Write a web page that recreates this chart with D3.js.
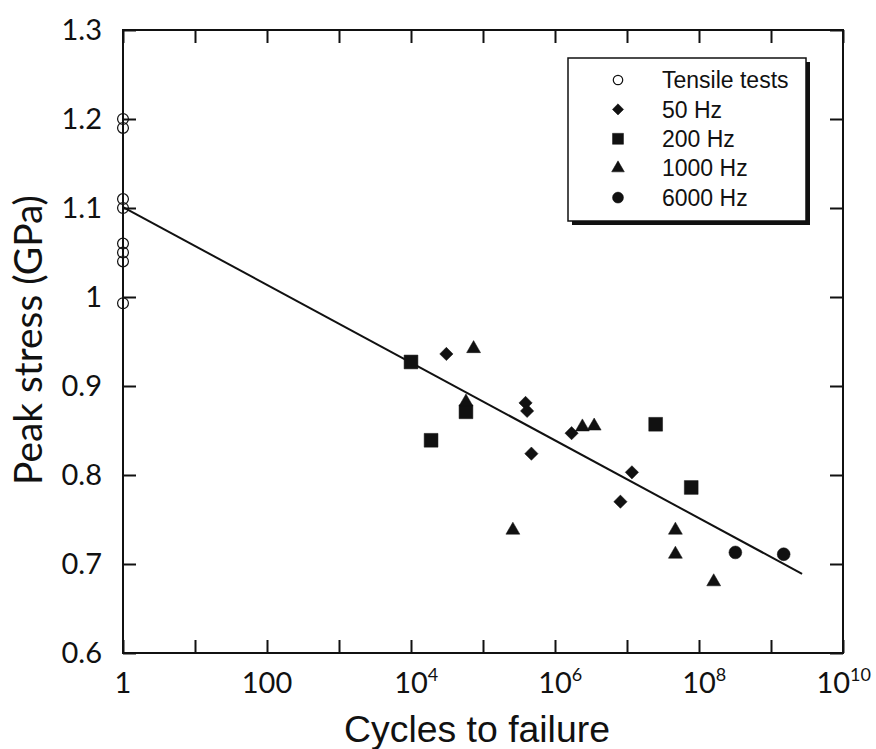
<!DOCTYPE html>
<html>
<head>
<meta charset="utf-8">
<script src="https://cdn.jsdelivr.net/npm/d3@7"></script>
<style>
  html, body { margin: 0; padding: 0; background: #fff; }
  svg { display: block; }
</style>
</head>
<body>
<svg id="chart" width="876" height="749"></svg>
<script>
// ---------- data ----------
const tensileCycles = [1, 1, 1, 1, 1, 1, 1, 1];
const tensileStress = [1.20, 1.19, 1.11, 1.10, 1.06, 1.05, 1.04, 0.993];

const hz50Cycles = [3.1e4, 3.9e5, 4.1e5, 4.7e5, 1.7e6, 1.17e7, 8.1e6];
const hz50Stress = [0.936, 0.881, 0.872, 0.824, 0.847, 0.803, 0.770];

const hz200Cycles = [1.0e4, 1.9e4, 5.8e4, 2.5e7, 7.8e7];
const hz200Stress = [0.927, 0.839, 0.871, 0.857, 0.786];

const hz1000Cycles = [7.4e4, 5.8e4, 2.6e5, 2.4e6, 3.5e6, 4.7e7, 4.7e7, 1.6e8];
const hz1000Stress = [0.942, 0.882, 0.738, 0.854, 0.855, 0.738, 0.711, 0.680];

const hz6000Cycles = [3.2e8, 1.5e9];
const hz6000Stress = [0.713, 0.711];

const fitCycles = [1, 2.7e9];
const fitStress = [1.101, 0.689];

const legendLabels = ["Tensile tests", "50 Hz", "200 Hz", "1000 Hz", "6000 Hz"];
const yTickValues = [0.6, 0.7, 0.8, 0.9, 1.0, 1.1, 1.2, 1.3];
const yTickLabels = ["0.6", "0.7", "0.8", "0.9", "1", "1.1", "1.2", "1.3"];
const xTickExponents = [0, 1, 2, 3, 4, 5, 6, 7, 8, 9, 10];
const xLabelExponents = [0, 2, 4, 6, 8, 10];

// ---------- layout ----------
const svg = d3.select("#chart");
const L = 123, R = 843, T = 30, B = 653;
const x = d3.scaleLog().domain([1, 1e10]).range([L, R]);
const y = d3.scaleLinear().domain([0.6, 1.3]).range([B, T]);
const ink = "#111";
const gillFont = "Lato, 'Open Sans', sans-serif";
const helvFont = "'Liberation Sans', Arial, Helvetica, sans-serif";

// frame
svg.append("rect").attr("x", L).attr("y", T).attr("width", R - L).attr("height", B - T)
  .attr("fill", "none").attr("stroke", ink).attr("stroke-width", 2);

// ticks (inward) via axes
const tickLen = 13;
const xTicksBottom = d3.axisTop(x).tickValues(xTickExponents.map(e => Math.pow(10, e)))
  .tickSize(tickLen).tickFormat("");
const xTicksTop = d3.axisBottom(x).tickValues(xTickExponents.map(e => Math.pow(10, e)))
  .tickSize(tickLen).tickFormat("");
const yTicksLeft = d3.axisRight(y).tickValues(yTickValues).tickSize(tickLen).tickFormat("");
const yTicksRight = d3.axisLeft(y).tickValues(yTickValues).tickSize(tickLen).tickFormat("");

function styleTicks(g) {
  g.select(".domain").remove();
  g.selectAll("line").attr("stroke", ink).attr("stroke-width", 2);
}
svg.append("g").attr("transform", `translate(0,${B})`).call(xTicksBottom).call(styleTicks);
svg.append("g").attr("transform", `translate(0,${T})`).call(xTicksTop).call(styleTicks);
svg.append("g").attr("transform", `translate(${L},0)`).call(yTicksLeft).call(styleTicks);
svg.append("g").attr("transform", `translate(${R},0)`).call(yTicksRight).call(styleTicks);

// y tick labels
svg.append("g").selectAll("text").data(yTickValues).join("text")
  .attr("x", L - 21).attr("y", d => y(d)).attr("dy", "0.36em")
  .attr("text-anchor", "end")
  .attr("font-family", gillFont).attr("font-size", 29).attr("fill", ink)
  .text((d, i) => yTickLabels[i]);

// x tick labels
const xLab = svg.append("g");
xLabelExponents.forEach(e => {
  const px = x(Math.pow(10, e));
  if (e === 0 || e === 2) {
    xLab.append("text").attr("x", px).attr("y", 693).attr("text-anchor", "middle")
      .attr("font-family", gillFont).attr("font-size", 29).attr("fill", ink)
      .text(e === 0 ? "1" : "100");
  } else {
    const t = xLab.append("text").attr("y", 693)
      .attr("font-family", gillFont).attr("font-size", 29).attr("fill", ink);
    const base = t.append("tspan").text("10");
    t.append("tspan").attr("dy", -12).attr("font-size", 18).text(String(e));
    const w = base.node().getComputedTextLength();
    let left = px - w / 2;
    const total = t.node().getComputedTextLength();
    if (left + total > 871) left = 871 - total;
    t.attr("x", left);
  }
});

// axis titles
function fitText(sel, target) {
  const len = sel.node().getComputedTextLength();
  const fs = parseFloat(sel.attr("font-size"));
  sel.attr("font-size", fs * target / len);
}
const xt = svg.append("text").attr("x", 477).attr("y", 742).attr("text-anchor", "middle")
  .attr("font-family", helvFont).attr("font-size", 34).attr("fill", ink)
  .text("Cycles to failure");
fitText(xt, 266);
const yt = svg.append("text").attr("transform", "translate(42,340) rotate(-90)")
  .attr("text-anchor", "middle")
  .attr("font-family", gillFont).attr("font-size", 36).attr("fill", ink)
  .text("Peak stress (GPa)");
fitText(yt, 290);

// fit line
const line = d3.line().x(d => x(d[0])).y(d => y(d[1]));
svg.append("path").datum(fitCycles.map((c, i) => [c, fitStress[i]]))
  .attr("d", line).attr("fill", "none").attr("stroke", ink).attr("stroke-width", 2);

// markers
const sym = {
  circleOpen: d3.symbol().type(d3.symbolCircle),
  diamond: d3.symbol().type(d3.symbolSquare),
  square: d3.symbol().type(d3.symbolSquare),
  triangle: d3.symbol().type(d3.symbolTriangle),
  circle: d3.symbol().type(d3.symbolCircle)
};
function drawSeries(cycles, stress, kind, size) {
  const g = svg.append("g");
  const pts = cycles.map((c, i) => [c, stress[i]]);
  g.selectAll("path").data(pts).join("path")
    .attr("d", sym[kind].size(size)())
    .attr("transform", d => `translate(${x(d[0])},${y(d[1])})` + (kind === "diamond" ? " rotate(45)" : ""))
    .attr("fill", kind === "circleOpen" ? "none" : ink)
    .attr("stroke", ink)
    .attr("stroke-width", kind === "circleOpen" ? 1.2 : 0.5);
}
drawSeries(tensileCycles, tensileStress, "circleOpen", 92);
drawSeries(hz50Cycles, hz50Stress, "diamond", 88);
drawSeries(hz200Cycles, hz200Stress, "square", 190);
drawSeries(hz1000Cycles, hz1000Stress, "triangle", 84);
drawSeries(hz6000Cycles, hz6000Stress, "circle", 130);

// legend
const lg = svg.append("g");
const lx = 568, ly = 58, lw = 238, lh = 163;
lg.append("rect").attr("x", lx + 4).attr("y", ly + 4).attr("width", lw).attr("height", lh).attr("fill", ink);
lg.append("rect").attr("x", lx).attr("y", ly).attr("width", lw).attr("height", lh)
  .attr("fill", "#fff").attr("stroke", ink).attr("stroke-width", 1.5);
const legKinds = ["circleOpen", "diamond", "square", "triangle", "circle"];
const legSizes = [70, 62, 120, 70, 95];
legendLabels.forEach((lab, i) => {
  const cy = 80 + i * 29.4;
  lg.append("path").attr("d", sym[legKinds[i]].size(legSizes[i])())
    .attr("transform", `translate(618,${cy})` + (legKinds[i] === "diamond" ? " rotate(45)" : ""))
    .attr("fill", legKinds[i] === "circleOpen" ? "none" : ink)
    .attr("stroke", ink).attr("stroke-width", legKinds[i] === "circleOpen" ? 1.2 : 0.5);
  lg.append("text").attr("x", 662).attr("y", cy).attr("dy", "0.36em")
    .attr("font-family", helvFont).attr("font-size", 23).attr("fill", ink).text(lab);
});
</script>
</body>
</html>
